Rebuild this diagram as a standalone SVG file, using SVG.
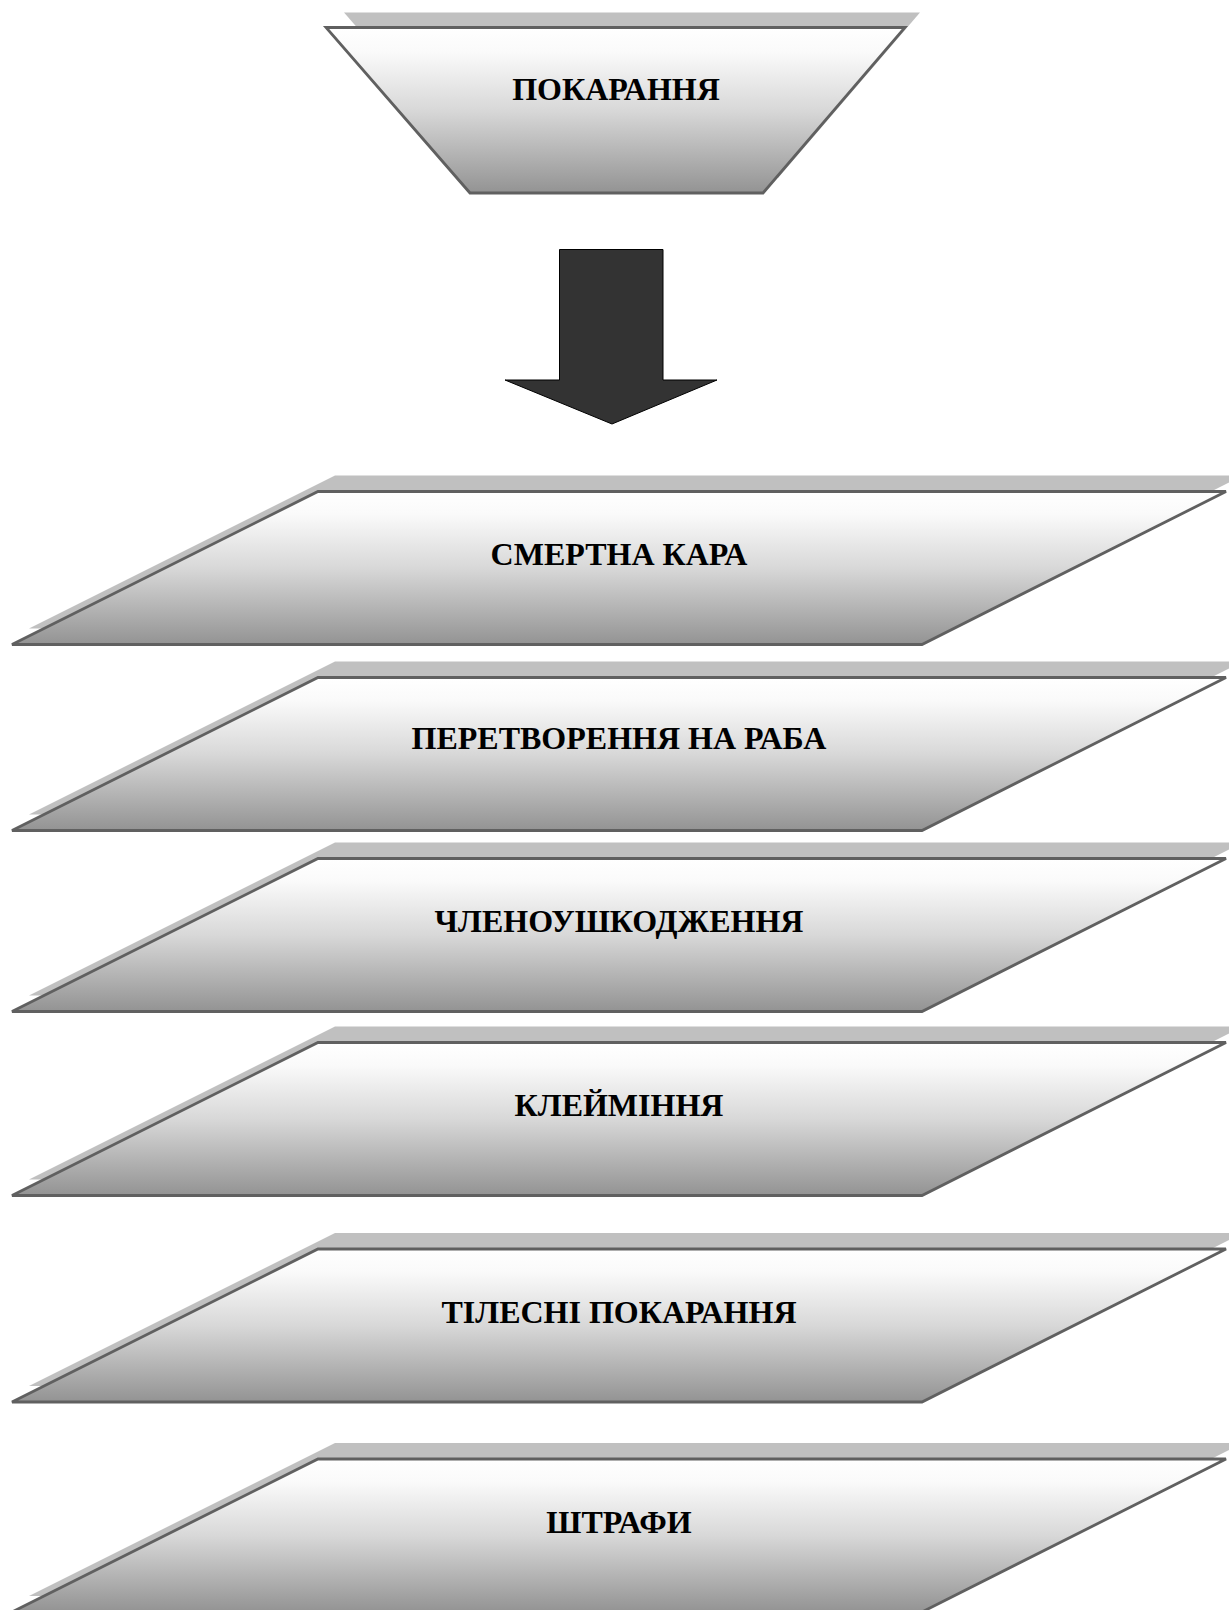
<svg xmlns="http://www.w3.org/2000/svg" width="1229" height="1610" viewBox="0 0 1229 1610">
<defs>
<linearGradient id="g" x1="0" y1="0" x2="0" y2="1">
<stop offset="0" stop-color="#ffffff"/>
<stop offset="0.15" stop-color="#fafafa"/>
<stop offset="0.5" stop-color="#d8d8d8"/>
<stop offset="1" stop-color="#939393"/>
</linearGradient>
<polygon id="para" points="318,0 1226,0 922,153 12,153"/>
</defs>
<style>
.sh{fill:#c0c0c0;stroke:none}
.sp{fill:url(#g);stroke:#606060;stroke-width:2.8;stroke-linejoin:miter}
.t{font-family:"Liberation Serif","Times New Roman",serif;font-weight:bold;font-size:32px;fill:#000;text-anchor:middle}
</style>
<rect width="1229" height="1610" fill="#fff"/>
<g id="n0">
<polygon class="sh" points="344,12.5 920,12.5 778,178 488,178"/>
<polygon class="sp" points="326,27.5 905,27.5 763,193 470,193"/>
<text class="t" x="616" y="100">ПОКАРАННЯ</text>
</g>
<g id="connectors">
<polygon points="559.5,249.5 663,249.5 663,380 717,380 612,424 505,380 559.5,380" fill="#333333" stroke="#000" stroke-width="1"/>
</g>
<g id="n1" transform="translate(0,491.5)">
<use href="#para" class="sh" transform="translate(17,-16)"/>
<use href="#para" class="sp"/>
<text class="t" x="619" y="73.5">СМЕРТНА КАРА</text>
</g>
<g id="n2" transform="translate(0,677.5)">
<use href="#para" class="sh" transform="translate(17,-16)"/>
<use href="#para" class="sp"/>
<text class="t" x="619" y="71.5">ПЕРЕТВОРЕННЯ НА РАБА</text>
</g>
<g id="n3" transform="translate(0,858.5)">
<use href="#para" class="sh" transform="translate(17,-16)"/>
<use href="#para" class="sp"/>
<text class="t" x="619" y="73.5">ЧЛЕНОУШКОДЖЕННЯ</text>
</g>
<g id="n4" transform="translate(0,1042.5)">
<use href="#para" class="sh" transform="translate(17,-16)"/>
<use href="#para" class="sp"/>
<text class="t" x="619" y="73.5">КЛЕЙМІННЯ</text>
</g>
<g id="n5" transform="translate(0,1249)">
<use href="#para" class="sh" transform="translate(17,-16)"/>
<use href="#para" class="sp"/>
<text class="t" x="619" y="73.5">ТІЛЕСНІ ПОКАРАННЯ</text>
</g>
<g id="n6" transform="translate(0,1459)">
<use href="#para" class="sh" transform="translate(17,-16)"/>
<use href="#para" class="sp"/>
<text class="t" x="619" y="73.5">ШТРАФИ</text>
</g>
</svg>
